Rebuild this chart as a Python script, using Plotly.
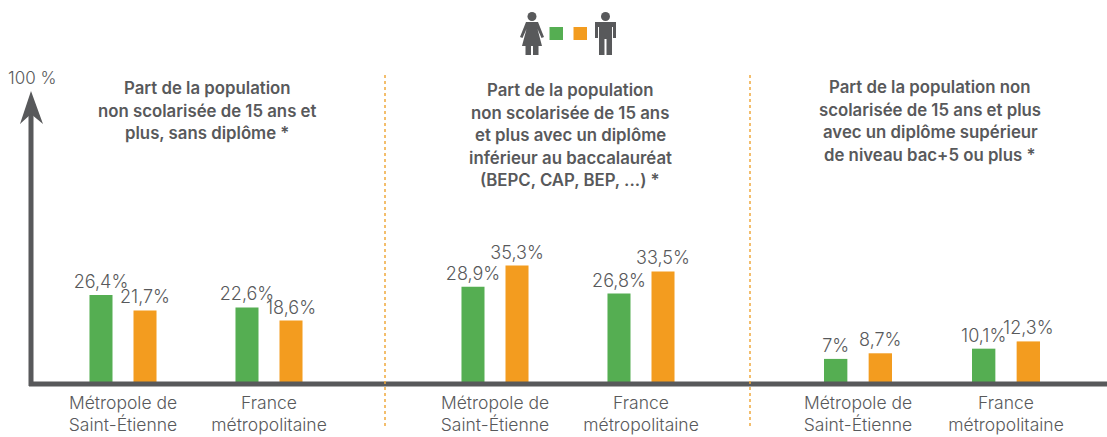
import plotly.graph_objects as go

W, H = 1107, 437
categories = ["Métropole de<br>Saint-Étienne", "France<br>métropolitaine"]
women = [[26.4, 22.6], [28.9, 26.8], [7, 10.1]]
men = [[21.7, 18.6], [35.3, 33.5], [8.7, 12.3]]
titles = [
    ["Part de la population", "non scolarisée de 15 ans et", "plus, sans diplôme *"],
    ["Part de la population", "non scolarisée de 15 ans", "et plus avec un diplôme",
     "inférieur au baccalauréat", "(BEPC, CAP, BEP, ...) *"],
    ["Part de la population non", "scolarisée de 15 ans et plus",
     "avec un diplôme supérieur", "de niveau bac+5 ou plus *"],
]
GREEN, ORANGE, GREY = "#55AE52", "#F39C1F", "#58595B"
FONT = "Inter"


def px(x):
    return x / W


def py(y):
    return 1 - y / H


def path(points):
    return "M " + " L ".join(f"{px(x):.5f},{py(y):.5f}" for x, y in points) + " Z"


def fmt(v):
    return f"{v:g}".replace(".", ",") + "%"


panel_domains = [(50, 342), (422, 714), (784, 1080)]
title_centres = [207, 570, 930]
title_tops = [88, 90, 87]

fig = go.Figure()
for i, (dom, w, m) in enumerate(zip(panel_domains, women, men)):
    ax = "" if i == 0 else str(i + 1)
    for vals, col, name in ((w, GREEN, "Femmes"), (m, ORANGE, "Hommes")):
        fig.add_trace(go.Bar(
            x=categories, y=vals, name=name, xaxis="x" + ax, yaxis="y" + ax,
            marker=dict(color=col, line_width=0), showlegend=False,
            text=[fmt(v) for v in vals], textposition="outside", textangle=0,
            constraintext="none", cliponaxis=False,
            textfont=dict(family=FONT, size=18, color=GREY, weight=300),
        ))
    fig.layout["xaxis" + ax] = dict(
        domain=[px(dom[0]), px(dom[1])], anchor="y" + ax, type="category",
        showline=False, showgrid=False, zeroline=False, ticks="",
        ticklabelstandoff=8,
        tickfont=dict(family=FONT, size=17.5, color=GREY, weight=300),
    )
    fig.layout["yaxis" + ax] = dict(
        domain=[py(382), py(52)], range=[0, 100], visible=False, anchor="x" + ax,
    )

shapes = []
# axes
shapes.append(dict(type="line", xref="paper", yref="paper", x0=px(29), x1=px(1107),
                   y0=py(384), y1=py(384), line=dict(color=GREY, width=5)))
shapes.append(dict(type="line", xref="paper", yref="paper", x0=px(31), x1=px(31),
                   y0=py(386), y1=py(112), line=dict(color=GREY, width=5)))
shapes.append(dict(type="path", xref="paper", yref="paper", line_width=0, fillcolor=GREY,
                   path=path([(31, 91), (43, 124), (31, 114), (20, 124)])))
# separators
for x in (385, 750):
    shapes.append(dict(type="line", xref="paper", yref="paper", x0=px(x), x1=px(x),
                       y0=py(75), y1=py(426),
                       line=dict(color="#EFA93E", width=1.5, dash="dot")))
# legend squares
for x0, col in ((549.5, GREEN), (573.5, ORANGE)):
    shapes.append(dict(type="rect", xref="paper", yref="paper", line_width=0, fillcolor=col,
                       x0=px(x0), x1=px(x0 + 13.5), y0=py(40), y1=py(27)))
# pictograms
for cx in (532, 605.5):
    shapes.append(dict(type="circle", xref="paper", yref="paper", line_width=0, fillcolor=GREY,
                       x0=px(cx - 4.5), x1=px(cx + 4.5), y0=py(21), y1=py(12)))
shapes.append(dict(type="path", xref="paper", yref="paper", line_width=0, fillcolor=GREY, path=path([
    (526, 22), (538, 22), (544, 37), (541.5, 38), (537.5, 29), (542, 46), (538.5, 46), (538.5, 55),
    (533, 55), (533, 46), (531, 46), (531, 55), (525.5, 55), (525.5, 46), (522, 46), (526.5, 29),
    (522.5, 38), (520, 37)])))
shapes.append(dict(type="path", xref="paper", yref="paper", line_width=0, fillcolor=GREY, path=path([
    (595, 22), (616, 22), (616, 38), (613, 38), (613, 27), (612, 27), (612, 55), (606.5, 55),
    (606.5, 39), (604.5, 39), (604.5, 55), (599, 55), (599, 27), (598, 27), (598, 38), (595, 38)])))

annotations = [dict(text="100 %", x=px(32), y=py(78), xref="paper", yref="paper",
                    showarrow=False, xanchor="center", yanchor="middle",
                    font=dict(family=FONT, size=17, color=GREY, weight=300))]
for lines, cx, top in zip(titles, title_centres, title_tops):
    for j, line in enumerate(lines):
        annotations.append(dict(
            text=line, x=px(cx), y=py(top + j * 22.5), xref="paper", yref="paper",
            showarrow=False, xanchor="center", yanchor="middle",
            font=dict(family=FONT, size=16.8, color=GREY, weight=600)))

fig.update_layout(
    width=W, height=H, autosize=False, margin=dict(l=0, r=0, t=0, b=0),
    paper_bgcolor="white", plot_bgcolor="rgba(0,0,0,0)",
    barmode="group", bargap=0.397, bargroupgap=0.477,
    shapes=shapes, annotations=annotations, showlegend=False,
)
fig.write_html("out.html", config={"displayModeBar": False},
               post_script="document.body.style.margin='0';document.body.style.overflow='hidden';")
